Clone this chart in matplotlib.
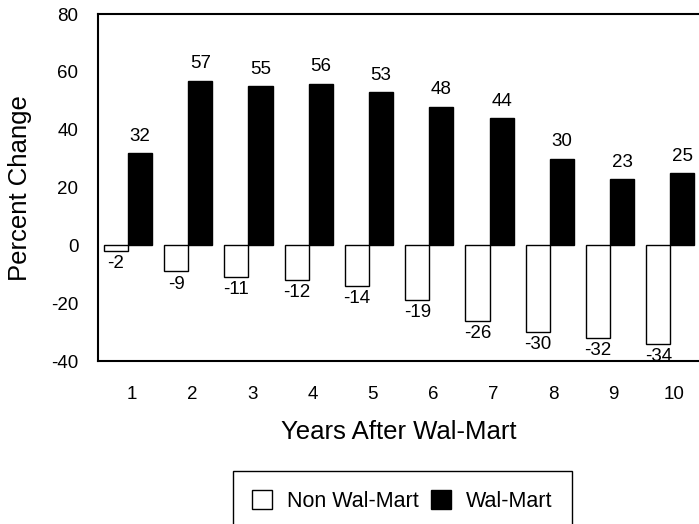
import matplotlib
matplotlib.use("Agg")
import matplotlib.pyplot as plt
from matplotlib.patches import Patch
import numpy as np

years = [1, 2, 3, 4, 5, 6, 7, 8, 9, 10]
non_walmart = [-2, -9, -11, -12, -14, -19, -26, -30, -32, -34]
walmart = [32, 57, 55, 56, 53, 48, 44, 30, 23, 25]
y_ticks = [-40, -20, 0, 20, 40, 60, 80]

plt.rcParams['font.family'] = ['Liberation Sans', 'DejaVu Sans']
plt.rcParams['axes.unicode_minus'] = False

fig = plt.figure(figsize=(6.99, 5.24), dpi=100)
ax = fig.add_axes([0.140, 0.311, 0.862, 0.662])

x = np.array(years, dtype=float)
w = 0.4
b1 = ax.bar(x - w / 2, non_walmart, width=w, color='white', edgecolor='black', linewidth=1.0)
b2 = ax.bar(x + w / 2, walmart, width=w, color='black', edgecolor='black', linewidth=1.0)
ax.bar_label(b1, padding=3, fontsize=13.5)
ax.bar_label(b2, padding=6, fontsize=13.5)

ax.set_xlim(0.5, 10.5)
ax.set_ylim(-40, 80)
ax.set_yticks(y_ticks)
ax.set_xticks(x + 0.06)
ax.set_xticklabels([str(v) for v in years], fontsize=13.5)
ax.tick_params(axis='y', labelsize=13.5, length=0, pad=14)
ax.tick_params(axis='x', length=0, pad=18)
for s in ['left', 'top', 'bottom']:
    ax.spines[s].set_linewidth(1.5)
ax.spines['right'].set_visible(False)

ax.set_ylabel('Percent Change', fontsize=18.5, labelpad=14)
ax.set_xlabel('Years After Wal-Mart', fontsize=18.5, labelpad=12)

handles = [Patch(facecolor='white', edgecolor='black', label='Non Wal-Mart'),
           Patch(facecolor='black', edgecolor='black', label='Wal-Mart')]
leg = fig.legend(handles=handles, loc='upper left', bbox_to_anchor=(0.3333, 0.1011),
                 ncol=2, fontsize=15.5, frameon=True, fancybox=False, handlelength=0.93,
                 handleheight=0.93, columnspacing=0.55, handletextpad=0.7,
                 borderpad=0.9, borderaxespad=0, edgecolor='black', framealpha=1)
leg.get_frame().set_linewidth(1.0)

fig.savefig('out.png', dpi=100)
